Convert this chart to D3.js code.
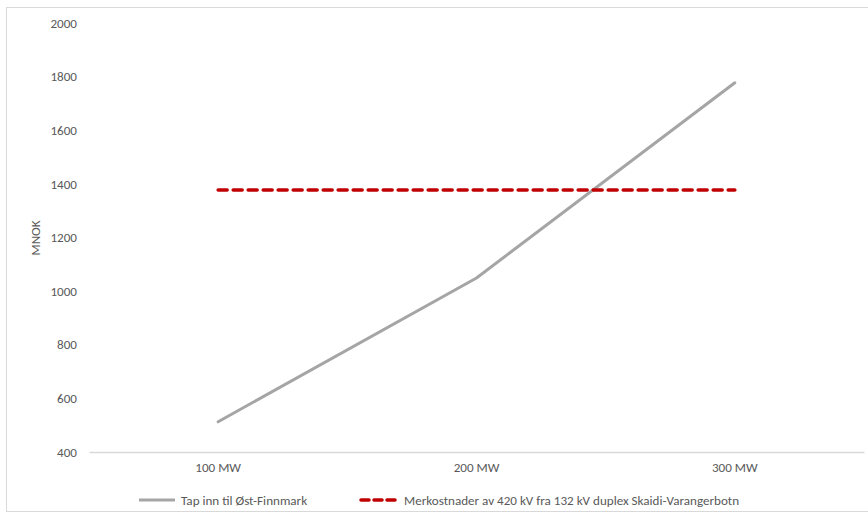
<!DOCTYPE html>
<html><head><meta charset="utf-8">
<script src="https://cdn.jsdelivr.net/npm/d3@7"></script>
<style>
html,body{margin:0;padding:0;background:#fff;}
text{font-family:Carlito,"Liberation Sans","Open Sans",sans-serif;}
</style></head>
<body><svg id="c" width="868" height="518"></svg>
<script>
const categories = ["100 MW", "200 MW", "300 MW"];
const tapValues = [513, 1049, 1777];
const merkostValues = [1377, 1377, 1377];
const yTicks = [400, 600, 800, 1000, 1200, 1400, 1600, 1800, 2000];
const seriesNames = ["Tap inn til Øst-Finnmark", "Merkostnader av 420 kV fra 132 kV duplex Skaidi-Varangerbotn"];

const FS = "13.1px";
const svg = d3.select("#c");
svg.append("rect").attr("x",6.5).attr("y",7.5).attr("width",870).attr("height",504)
  .attr("fill","#fff").attr("stroke","#d9d9d9").attr("stroke-width",1);

const m = {left:89, right:864, top:23, bottom:452};
const x = d3.scaleBand().domain(categories).range([m.left, m.right]).padding(0);
const y = d3.scaleLinear().domain([400, 2000]).range([m.bottom, m.top]);
const cx = d => x(d) + x.bandwidth()/2;

// y axis labels
const yAxis = svg.append("g").attr("transform", `translate(${m.left},0)`)
  .call(d3.axisLeft(y).tickValues(yTicks).tickFormat(d3.format("d")).tickSize(0).tickPadding(12));
yAxis.select(".domain").remove();
yAxis.selectAll("text").attr("fill","#595959").style("font-size",FS);

// x axis
const xAxis = svg.append("g").attr("transform", `translate(0,${m.bottom})`)
  .call(d3.axisBottom(x).tickSize(0).tickPadding(11));
xAxis.select(".domain").attr("stroke","#d9d9d9").attr("stroke-width",1.3);
xAxis.selectAll("text").attr("fill","#595959").style("font-size",FS);

// y title
svg.append("text").attr("transform","translate(40,238) rotate(-90)")
  .attr("text-anchor","middle").attr("fill","#595959").style("font-size",FS).text("MNOK");

const line = d3.line().x((d,i)=>cx(categories[i])).y(d=>y(d));

svg.append("path").datum(tapValues).attr("d", line).attr("fill","none")
  .attr("stroke","#a5a5a5").attr("stroke-width",3).attr("stroke-linejoin","round").attr("stroke-linecap","round");
svg.append("path").datum(merkostValues).attr("d", line).attr("fill","none")
  .attr("stroke","#c00000").attr("stroke-width",3.5).attr("stroke-dasharray","9,6").attr("stroke-linecap","round");

// legend
const ly = 500;
const lg = svg.append("g");
lg.append("line").attr("x1",139).attr("x2",175).attr("y1",ly).attr("y2",ly)
  .attr("stroke","#a5a5a5").attr("stroke-width",3);
lg.append("text").attr("x",181).attr("y",ly).attr("dy","0.35em").attr("fill","#595959")
  .style("font-size",FS).text(seriesNames[0]);
lg.append("line").attr("x1",361).attr("x2",398).attr("y1",ly).attr("y2",ly)
  .attr("stroke","#c00000").attr("stroke-width",3.5).attr("stroke-dasharray","8,5").attr("stroke-linecap","round");
lg.append("text").attr("x",404).attr("y",ly).attr("dy","0.35em").attr("fill","#595959")
  .style("font-size",FS).text(seriesNames[1]);
</script></body></html>
